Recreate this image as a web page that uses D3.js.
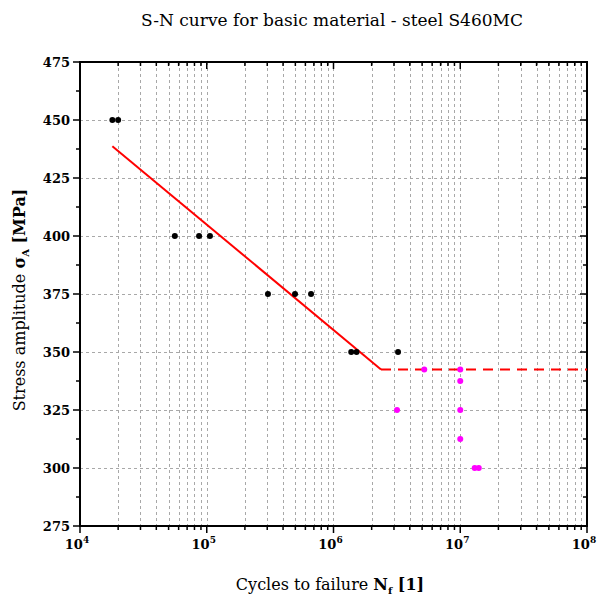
<!DOCTYPE html>
<html>
<head>
<meta charset="utf-8">
<script src="https://cdn.jsdelivr.net/npm/d3@7"></script>
<style>
  body { margin: 0; background: #fff; }
  text { font-family: "DejaVu Serif", "Liberation Serif", serif; }
</style>
</head>
<body>
<div id="chart"></div>
<script>
// Black points: failed specimens
const failCycles = [1.8e4, 2.0e4, 5.6e4, 8.7e4, 1.06e5, 3.04e5, 4.97e5, 6.65e5, 1.38e6, 1.52e6, 3.23e6];
const failStress = [450, 450, 400, 400, 400, 375, 375, 375, 350, 350, 350];

// Magenta points: run-outs / other
const runCycles = [3.17e6, 5.2e6, 1e7, 1e7, 1e7, 1e7, 1.3e7, 1.4e7];
const runStress = [325, 342.5, 342.5, 337.5, 325, 312.5, 300, 300];

// S-N fit line (solid part) and fatigue limit (dashed part)
const fitCycles = [1.8e4, 2.37e6];
const fitStress = [438.7, 342.5];
const limitCycles = [2.37e6, 1e8];
const limitStress = [342.5, 342.5];

const xDomain = [1e4, 1e8];
const yDomain = [275, 475];
const yTicks = [275, 300, 325, 350, 375, 400, 425, 450, 475];
const xMajor = [1e4, 1e5, 1e6, 1e7, 1e8];

const width = 597, height = 598;
const margin = {left: 80, right: 10, top: 62, bottom: 72};

const svg = d3.select("#chart").append("svg")
    .attr("width", width)
    .attr("height", height);

const x = d3.scaleLog().domain(xDomain).range([margin.left, width - margin.right]);
const y = d3.scaleLinear().domain(yDomain).range([height - margin.bottom, margin.top]);

const x0 = x.range()[0], x1 = x.range()[1];
const y0 = y.range()[0], y1 = y.range()[1];

// Minor decade positions
const xMinor = [];
for (let k = 4; k < 8; k++) {
    for (let m = 2; m <= 9; m++) xMinor.push(m * Math.pow(10, k));
}
const yMinor = [];
for (let i = 0; i < yTicks.length - 1; i++) yMinor.push(yTicks[i] + 12.5);

// Grid lines
const grid = svg.append("g").attr("stroke", "#a8a8a8").attr("stroke-width", 1)
    .attr("stroke-dasharray", "3,3");
grid.selectAll("line.vx").data(xMinor.concat(xMajor.slice(1, -1))).enter().append("line")
    .attr("x1", d => Math.round(x(d)) + 0.5).attr("x2", d => Math.round(x(d)) + 0.5)
    .attr("y1", y1).attr("y2", y0);
grid.selectAll("line.hy").data(yTicks.slice(1, -1)).enter().append("line")
    .attr("y1", d => Math.round(y(d)) + 0.5).attr("y2", d => Math.round(y(d)) + 0.5)
    .attr("x1", x0).attr("x2", x1);

// Ticks
const ticks = svg.append("g").attr("stroke", "#000").attr("stroke-width", 1.5);
// bottom: outward
ticks.selectAll("line.b").data(xMinor).enter().append("line")
    .attr("x1", d => x(d)).attr("x2", d => x(d)).attr("y1", y0).attr("y2", y0 + 4);
ticks.selectAll("line.bm").data(xMajor).enter().append("line")
    .attr("x1", d => x(d)).attr("x2", d => x(d)).attr("y1", y0).attr("y2", y0 + 7);
// top: inward
ticks.selectAll("line.t").data(xMinor).enter().append("line")
    .attr("x1", d => x(d)).attr("x2", d => x(d)).attr("y1", y1).attr("y2", y1 + 4);
ticks.selectAll("line.tm").data(xMajor).enter().append("line")
    .attr("x1", d => x(d)).attr("x2", d => x(d)).attr("y1", y1).attr("y2", y1 + 7);
// left: outward
ticks.selectAll("line.l").data(yTicks).enter().append("line")
    .attr("x1", x0 - 7).attr("x2", x0).attr("y1", d => y(d)).attr("y2", d => y(d));
ticks.selectAll("line.lm").data(yMinor).enter().append("line")
    .attr("x1", x0 - 4).attr("x2", x0).attr("y1", d => y(d)).attr("y2", d => y(d));
// right: inward
ticks.selectAll("line.r").data(yTicks).enter().append("line")
    .attr("x1", x1 - 7).attr("x2", x1).attr("y1", d => y(d)).attr("y2", d => y(d));
ticks.selectAll("line.rm").data(yMinor).enter().append("line")
    .attr("x1", x1 - 4).attr("x2", x1).attr("y1", d => y(d)).attr("y2", d => y(d));

// Frame
svg.append("rect")
    .attr("x", x0).attr("y", y1)
    .attr("width", x1 - x0).attr("height", y0 - y1)
    .attr("fill", "none").attr("stroke", "#000").attr("stroke-width", 2);

// Tick labels
const yl = svg.append("g").attr("font-size", 13).attr("font-weight", "bold").attr("text-anchor", "end");
yl.selectAll("text").data(yTicks).enter().append("text")
    .attr("x", x0 - 10).attr("y", d => y(d) + 4.5)
    .text(d => d);

const xl = svg.append("g").attr("font-size", 13).attr("font-weight", "bold");
xMajor.forEach(d => {
    const t = xl.append("text").attr("x", x(d) - 3).attr("y", y0 + 23).attr("text-anchor", "middle");
    t.append("tspan").text("10");
    t.append("tspan").attr("font-size", 9).attr("dy", -6).text(Math.round(Math.log10(d)));
});

// Fit line
const line = d3.line().x(d => x(d[0])).y(d => y(d[1]));
svg.append("path")
    .datum(d3.zip(fitCycles, fitStress))
    .attr("d", line).attr("fill", "none").attr("stroke", "#ff0000").attr("stroke-width", 2);
svg.append("path")
    .datum(d3.zip(limitCycles, limitStress))
    .attr("d", line).attr("fill", "none").attr("stroke", "#ff0000").attr("stroke-width", 2)
    .attr("stroke-dasharray", "10,7");

// Points
svg.append("g").selectAll("circle").data(d3.zip(runCycles, runStress)).enter().append("circle")
    .attr("cx", d => x(d[0])).attr("cy", d => y(d[1])).attr("r", 3).attr("fill", "#ff00ff");
svg.append("g").selectAll("circle").data(d3.zip(failCycles, failStress)).enter().append("circle")
    .attr("cx", d => x(d[0])).attr("cy", d => y(d[1])).attr("r", 3).attr("fill", "#000");

// Title
svg.append("text")
    .attr("x", 332).attr("y", 26).attr("text-anchor", "middle").attr("font-size", 17)
    .text("S-N curve for basic material - steel S460MC");

// X axis title
const xt = svg.append("text")
    .attr("x", 330).attr("y", 590).attr("text-anchor", "middle").attr("font-size", 16);
xt.append("tspan").text("Cycles to failure ");
xt.append("tspan").attr("font-weight", "bold").text("N");
xt.append("tspan").attr("font-weight", "bold").attr("font-size", 10).attr("dy", 4).text("f");
xt.append("tspan").attr("font-weight", "bold").attr("dy", -4).text(" [1]");

// Y axis title
const yt = svg.append("text")
    .attr("transform", "translate(25," + 300 + ") rotate(-90)")
    .attr("text-anchor", "middle").attr("font-size", 16);
yt.append("tspan").text("Stress amplitude ");
yt.append("tspan").attr("font-weight", "bold").text("σ");
yt.append("tspan").attr("font-weight", "bold").attr("font-size", 10).attr("dy", 4).text("A");
yt.append("tspan").attr("font-weight", "bold").attr("dy", -4).text(" [MPa]");
</script>
</body>
</html>
